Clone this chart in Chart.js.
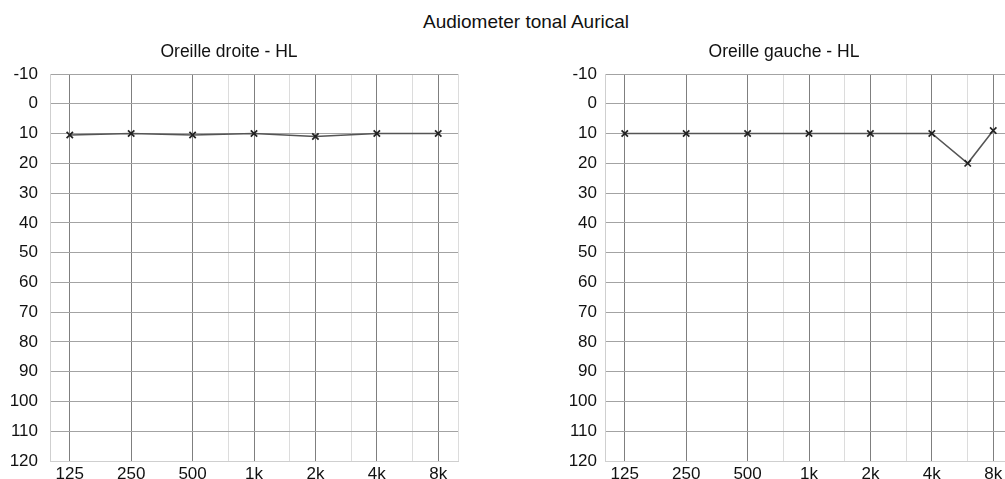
<!DOCTYPE html>
<html>
<head>
<meta charset="utf-8">
<script src="https://cdn.jsdelivr.net/npm/chart.js@4"></script>
<style>
  html, body { margin: 0; padding: 0; background: #fff; overflow: hidden; width: 1005px; height: 479px; }
  #title { position: absolute; left: 0; width: 1052px; top: 11px; text-align: center;
           font: 19px "Liberation Sans", Arial, sans-serif; color: #111; line-height: 22px; }
  canvas { position: absolute; top: 0; }
</style>
</head>
<body>
<div id="title">Audiometer tonal Aurical</div>
<canvas id="droite" width="480" height="500" style="left:0px"></canvas>
<canvas id="gauche" width="480" height="500" style="left:555px"></canvas>
<script>
// frequencies (Hz) and hearing levels (dB HL)
const freqs = [125, 250, 500, 1000, 2000, 4000, 8000];
const freqLabels = ["125", "250", "500", "1k", "2k", "4k", "8k"];
const minorFreqs = [750, 1500, 3000, 6000];

const droiteFreqs = [125, 250, 500, 1000, 2000, 4000, 8000];
const droiteHL = [10.5, 10, 10.5, 10, 11, 10, 10];

const gaucheFreqs = [125, 250, 500, 1000, 2000, 4000, 6000, 8000];
const gaucheHL = [10, 10, 10, 10, 10, 10, 20, 9];

const FONT = "'Liberation Sans', Arial, sans-serif";

function audiogram(id, title, fx, hl, labelPad) {
  const ctx = document.getElementById(id).getContext("2d");
  const points = fx.map((f, i) => ({ x: f, y: hl[i] }));

  return new Chart(ctx, {
    type: "scatter",
    data: {
      datasets: [{
        data: points,
        showLine: true,
        borderColor: "#555",
        borderWidth: 1.5,
        pointStyle: "crossRot",
        pointRadius: 4.5,
        pointBorderWidth: 1.7,
        pointBorderColor: "#222",
        pointBackgroundColor: "#222",
      }],
    },
    options: {
      responsive: false,
      animation: false,
      layout: { padding: { top: 42, right: 22, left: 0, bottom: 0 } },
      plugins: {
        legend: { display: false },
        tooltip: { enabled: false },
        title: {
          display: true,
          text: title,
          color: "#111",
          font: { family: FONT, size: 17.5, weight: "normal" },
          padding: { top: 0, bottom: 11 },
        },
      },
      scales: {
        x: {
          type: "logarithmic",
          min: 100,
          max: 10000,
          afterBuildTicks: (scale) => {
            const all = [100, ...freqs, ...minorFreqs, 10000].sort((a, b) => a - b);
            scale.ticks = all.map((v) => ({ value: v }));
          },
          afterFit: (scale) => { scale.height = 39; },
          ticks: {
            autoSkip: false,
            maxRotation: 0,
            padding: 3,
            color: "#111",
            font: { family: FONT, size: 17 },
            callback: (v) => {
              const i = freqs.indexOf(v);
              return i >= 0 ? freqLabels[i] : "";
            },
          },
          grid: {
            drawTicks: false,
            color: (c) => (freqs.includes(c.tick.value) ? "#7f7f7f" : "#dcdcdc"),
          },
          border: { color: "#cfcfcf" },
        },
        y: {
          type: "linear",
          reverse: true,
          min: -10,
          max: 120,
          afterFit: (scale) => { scale.width = 50; },
          ticks: {
            stepSize: 5,
            padding: labelPad,
            color: "#111",
            font: { family: FONT, size: 17 },
            callback: (v) => (v % 10 === 0 ? String(v) : ""),
          },
          grid: {
            drawTicks: false,
            color: (c) => (c.tick.value % 10 === 0 ? "#a3a3a3" : "#e2e2e2"),
          },
          border: { color: "#cfcfcf" },
        },
      },
    },
  });
}

audiogram("droite", "Oreille droite - HL", droiteFreqs, droiteHL, 12);
audiogram("gauche", "Oreille gauche - HL", gaucheFreqs, gaucheHL, 8);
</script>
</body>
</html>
